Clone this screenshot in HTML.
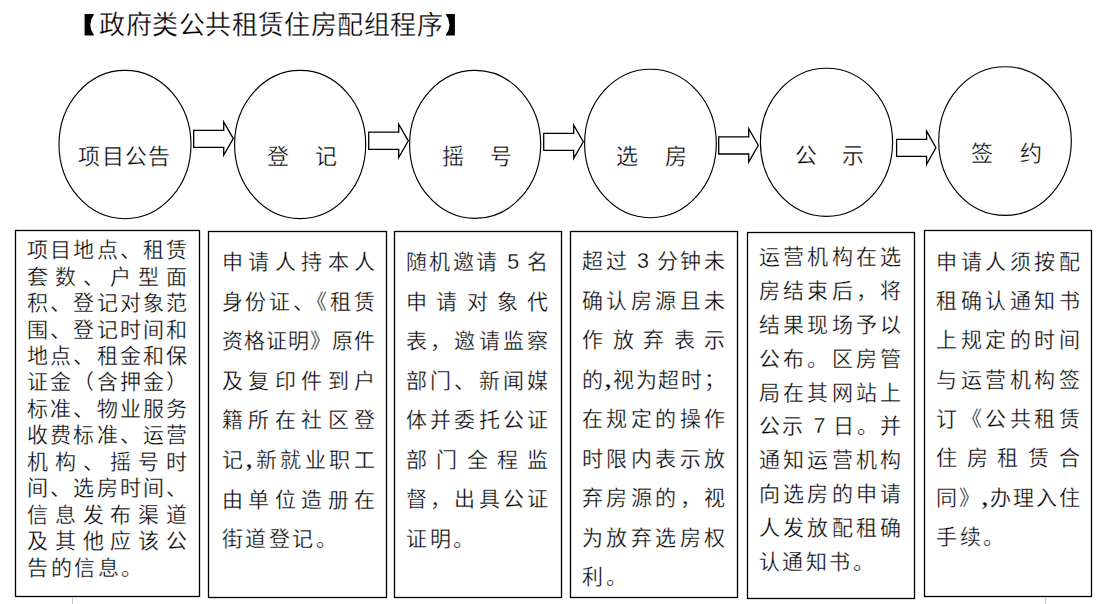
<!DOCTYPE html><html lang="zh-CN"><head><meta charset="utf-8"><style>
html,body{margin:0;padding:0;background:#fff;width:1098px;height:604px;overflow:hidden;position:relative;}
body{font-family:"Liberation Serif",serif;color:#000;}
.l{position:absolute;white-space:nowrap;line-height:1;font-size:21px;}
.j{text-align:justify;text-align-last:justify;}
.l,.t{-webkit-text-stroke:0.3px #fff;}
.t{position:absolute;white-space:nowrap;line-height:1;font-size:26px;letter-spacing:0.43px;}
svg{position:absolute;left:0;top:0;}
.c{font-family:"Liberation Serif",serif;font-size:24px;line-height:0;font-weight:bold;}
.d{font-family:"Liberation Sans",sans-serif;font-size:21.5px;line-height:0;}
</style></head><body>
<svg width="1098" height="604" viewBox="0 0 1098 604" fill="none" stroke="#000" stroke-width="1.3"><ellipse stroke-width="1.15" cx="125.00" cy="144.50" rx="66.00" ry="74.20"/><ellipse stroke-width="1.15" cx="300.15" cy="144.50" rx="65.55" ry="74.10"/><ellipse stroke-width="1.15" cx="475.15" cy="144.40" rx="65.55" ry="74.00"/><ellipse stroke-width="1.15" cx="650.45" cy="143.45" rx="65.85" ry="74.25"/><ellipse stroke-width="1.15" cx="826.50" cy="142.30" rx="66.10" ry="74.10"/><ellipse stroke-width="1.15" cx="1005.00" cy="141.05" rx="66.30" ry="74.35"/><path stroke-linejoin="miter" d="M193.7 130.3H223.7V121.9L233.3 138.6L223.7 155.2V147.3H193.7Z"/><path stroke-linejoin="miter" d="M368.7 132.2H398.7V124.2L408.3 140.8L398.7 157.5V149.4H368.7Z"/><path stroke-linejoin="miter" d="M543.7 133.4H573.7V125.1L583.3 141.7L573.7 158.4V150.3H543.7Z"/><path stroke-linejoin="miter" d="M718.7 136.9H748.7V128.6L758.3 145.3L748.7 162.1V154.0H718.7Z"/><path stroke-linejoin="miter" d="M896.6 139.3H926.6V131.1L935.9 147.7L926.6 164.2V156.3H896.6Z"/><rect x="15.50" y="230.50" width="184.00" height="366.00"/><rect x="208.50" y="231.50" width="178.00" height="366.00"/><rect x="394.50" y="231.50" width="167.00" height="366.00"/><rect x="570.50" y="231.50" width="167.00" height="366.00"/><rect x="747.50" y="232.50" width="167.00" height="366.00"/><rect x="924.50" y="230.50" width="167.00" height="366.00"/><path fill="#000" stroke="none" d="M84.6 14.1H94.2Q86.4 24.85 94.2 35.6H84.6Z"/><path fill="#000" stroke="none" d="M454.9 14.1H445.6Q453.4 24.85 445.6 35.6H454.9Z"/></svg>
<div class="t" style="left:99.4px;top:13px">政府类公共租赁住房配组程序</div>
<div class="l j" style="font-size:22px;left:78.2px;top:145.8px;width:92.2px">项目公告</div>
<div class="l j" style="font-size:22px;left:267.0px;top:146.2px;width:69.7px">登　记</div>
<div class="l j" style="font-size:22px;left:442.0px;top:146.2px;width:69.7px">摇　号</div>
<div class="l j" style="font-size:22px;left:616.3px;top:145.6px;width:70.4px">选　房</div>
<div class="l j" style="font-size:22px;left:794.9px;top:144.5px;width:68.7px">公　示</div>
<div class="l j" style="font-size:22px;left:971.3px;top:142.8px;width:70.4px">签　约</div>
<div class="l j" style="left:27.2px;top:240.0px;width:159.8px">项目地点、租赁</div>
<div class="l j" style="left:27.2px;top:266.5px;width:159.8px">套数、户型面</div>
<div class="l j" style="left:27.2px;top:293.0px;width:159.8px">积、登记对象范</div>
<div class="l j" style="left:27.2px;top:319.5px;width:159.8px">围、登记时间和</div>
<div class="l j" style="left:27.2px;top:345.9px;width:159.8px">地点、租金和保</div>
<div class="l j" style="left:27.2px;top:372.4px;width:159.8px">证金（含押金）</div>
<div class="l j" style="left:27.2px;top:398.9px;width:159.8px">标准、物业服务</div>
<div class="l j" style="left:27.2px;top:425.3px;width:159.8px">收费标准、运营</div>
<div class="l j" style="left:27.2px;top:451.8px;width:159.8px">机构、摇号时</div>
<div class="l j" style="left:27.2px;top:478.3px;width:159.8px">间、选房时间、</div>
<div class="l j" style="left:27.2px;top:504.7px;width:159.8px">信息发布渠道</div>
<div class="l j" style="left:27.2px;top:531.2px;width:159.8px">及其他应该公</div>
<div class="l" style="left:27.2px;top:557.7px;letter-spacing:2.5px">告的信息。</div>
<div class="l j" style="left:221.5px;top:252.2px;width:153.5px">申请人持本人</div>
<div class="l j" style="left:221.5px;top:291.8px;width:153.5px">身份证、《租赁</div>
<div class="l j" style="left:221.5px;top:331.3px;width:153.5px">资格证明》原件</div>
<div class="l j" style="left:221.5px;top:370.9px;width:153.5px">及复印件到户</div>
<div class="l j" style="left:221.5px;top:410.4px;width:153.5px">籍所在社区登</div>
<div class="l j" style="left:221.5px;top:450.0px;width:153.5px">记<span class="c">,</span>新就业职工</div>
<div class="l j" style="left:221.5px;top:489.5px;width:153.5px">由单位造册在</div>
<div class="l" style="left:221.5px;top:529.1px;letter-spacing:2.5px">街道登记。</div>
<div class="l j" style="left:406.0px;top:252.3px;width:142.0px">随机邀请 <span class="d">5</span> 名</div>
<div class="l j" style="left:406.0px;top:291.8px;width:142.0px">申请对象代</div>
<div class="l j" style="left:406.0px;top:331.2px;width:142.0px">表，邀请监察</div>
<div class="l j" style="left:406.0px;top:370.7px;width:142.0px">部门、新闻媒</div>
<div class="l j" style="left:406.0px;top:410.1px;width:142.0px">体并委托公证</div>
<div class="l j" style="left:406.0px;top:449.6px;width:142.0px">部门全程监</div>
<div class="l j" style="left:406.0px;top:489.0px;width:142.0px">督，出具公证</div>
<div class="l" style="left:406.0px;top:528.5px;letter-spacing:2.5px">证明。</div>
<div class="l j" style="left:582.1px;top:251.0px;width:142.9px">超过 <span class="d">3</span> 分钟未</div>
<div class="l j" style="left:582.1px;top:290.6px;width:142.9px">确认房源且未</div>
<div class="l j" style="left:582.1px;top:330.1px;width:142.9px">作放弃表示</div>
<div class="l j" style="left:582.1px;top:369.7px;width:142.9px">的<span class="c">,</span>视为超时；</div>
<div class="l j" style="left:582.1px;top:409.2px;width:142.9px">在规定的操作</div>
<div class="l j" style="left:582.1px;top:448.8px;width:142.9px">时限内表示放</div>
<div class="l j" style="left:582.1px;top:488.3px;width:142.9px">弃房源的，视</div>
<div class="l j" style="left:582.1px;top:527.9px;width:142.9px">为放弃选房权</div>
<div class="l" style="left:582.1px;top:567.4px;letter-spacing:2.5px">利。</div>
<div class="l j" style="left:758.8px;top:247.4px;width:142.2px">运营机构在选</div>
<div class="l j" style="left:758.8px;top:281.2px;width:142.2px">房结束后，将</div>
<div class="l j" style="left:758.8px;top:315.0px;width:142.2px">结果现场予以</div>
<div class="l j" style="left:758.8px;top:348.8px;width:142.2px">公布。区房管</div>
<div class="l j" style="left:758.8px;top:382.6px;width:142.2px">局在其网站上</div>
<div class="l j" style="left:758.8px;top:416.4px;width:142.2px">公示 <span class="d">7</span> 日。并</div>
<div class="l j" style="left:758.8px;top:450.2px;width:142.2px">通知运营机构</div>
<div class="l j" style="left:758.8px;top:484.0px;width:142.2px">向选房的申请</div>
<div class="l j" style="left:758.8px;top:517.8px;width:142.2px">人发放配租确</div>
<div class="l" style="left:758.8px;top:551.6px;letter-spacing:2.5px">认通知书。</div>
<div class="l j" style="left:936.0px;top:251.7px;width:143.5px">申请人须按配</div>
<div class="l j" style="left:936.0px;top:291.0px;width:143.5px">租确认通知书</div>
<div class="l j" style="left:936.0px;top:330.3px;width:143.5px">上规定的时间</div>
<div class="l j" style="left:936.0px;top:369.6px;width:143.5px">与运营机构签</div>
<div class="l j" style="left:936.0px;top:408.9px;width:143.5px">订《公共租赁</div>
<div class="l j" style="left:936.0px;top:448.2px;width:143.5px">住房租赁合</div>
<div class="l j" style="left:936.0px;top:487.5px;width:143.5px">同》<span class="c">,</span>办理入住</div>
<div class="l" style="left:936.0px;top:526.8px;letter-spacing:2.5px">手续。</div>
<div style="position:absolute;left:72px;top:597px;width:1px;height:7px;background:#c8c8c8"></div>
<div style="position:absolute;left:1045px;top:597px;width:1px;height:7px;background:#c8c8c8"></div>
</body></html>
